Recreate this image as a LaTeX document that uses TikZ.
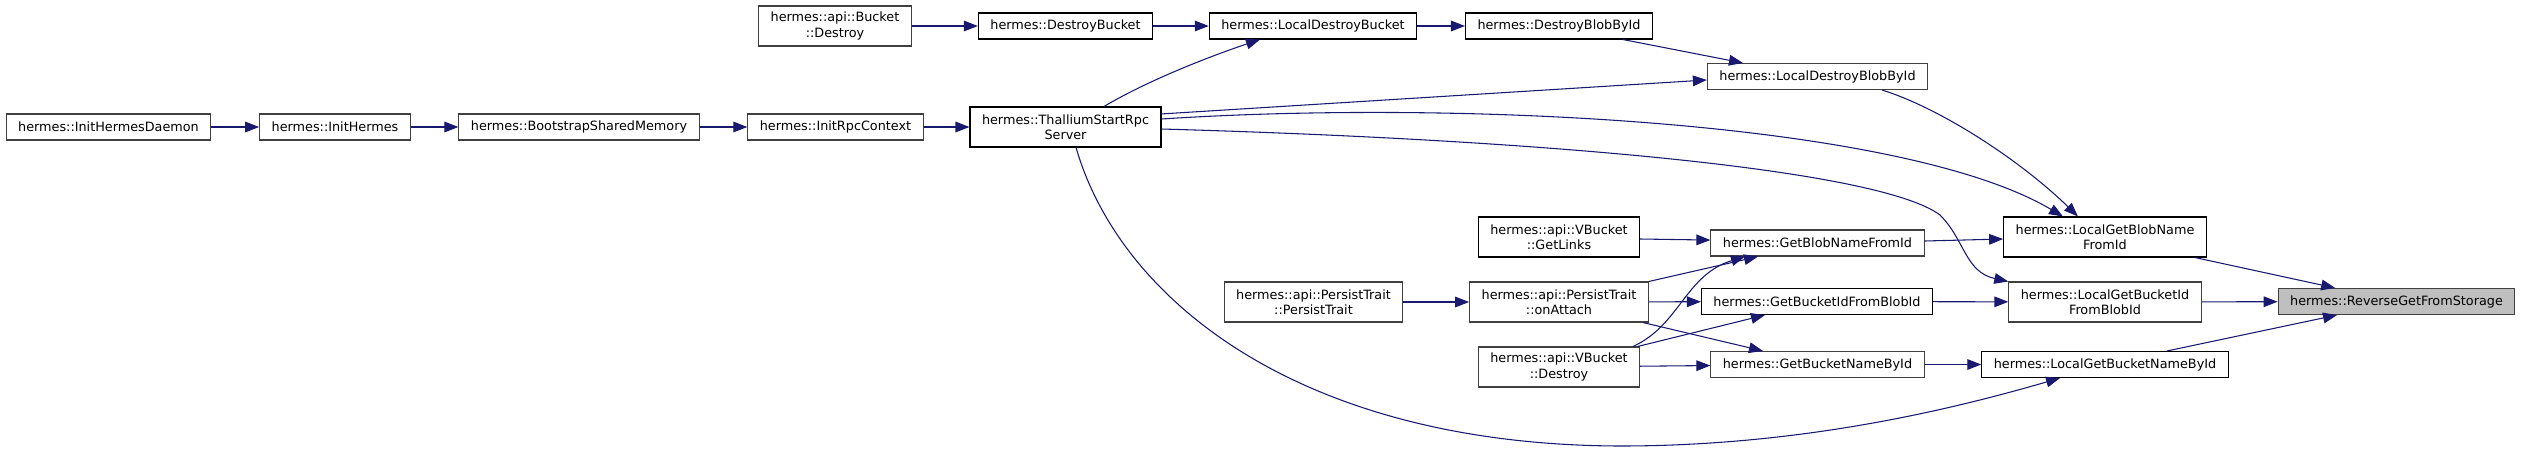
\documentclass[tikz,border=0pt]{standalone}
\usepackage{fontspec}
\usepackage{tikz}
\usetikzlibrary{arrows.meta,positioning}
\newfontfamily\dox{DejaVu Sans}
\definecolor{edgeblue}{HTML}{191970}
\definecolor{boxgray}{HTML}{404040}
\definecolor{hilite}{HTML}{BFBFBF}

\begin{document}
\begin{tikzpicture}[
  x=0.75pt, y=-0.75pt,
  fn/.style={draw=black, fill=white, line width=0.8pt, inner xsep=9pt, inner ysep=0pt,
             minimum height=19.5pt, align=center,
             font=\dox\fontsize{9.6}{11.5}\selectfont},
  fngray/.style={fn, draw=boxgray},
  two/.style={minimum height=30pt},
  call/.style={-{Triangle[length=10.5pt, width=8pt]}, draw=edgeblue, line width=0.8pt},
]
\useasboundingbox (0,0) rectangle (2521,451);

% left chain
\node[fngray] (daemon) at (108.5,127) {hermes::InitHermesDaemon};
\node[fngray] (inithermes) at (335,127) {hermes::InitHermes};
\node[fngray] (bootstrap) at (579,127) {hermes::BootstrapSharedMemory};
\node[fngray] (initrpc) at (835.5,127) {hermes::InitRpcContext};
\node[fn, two] (thallium) at (1065.5,127) {hermes::ThalliumStartRpc\\Server};

% top row
\node[fngray, two] (bktdestroy) at (835,26) {hermes::api::Bucket\\::Destroy};
\node[fn] (destroybkt) at (1065.5,26) {hermes::DestroyBucket};
\node[fn] (localdestroybkt) at (1313,26) {hermes::LocalDestroyBucket};
\node[fn] (destroyblob) at (1559,26) {hermes::DestroyBlobById};
\node[fngray] (localdestroyblob) at (1817.5,76.5) {hermes::LocalDestroyBlobById};

% api callers
\node[fn, two] (getlinks) at (1559,237) {hermes::api::VBucket\\::GetLinks};
\node[fngray, two] (persist) at (1313.5,302) {hermes::api::PersistTrait\\::PersistTrait};
\node[fngray, two] (onattach) at (1559,302) {hermes::api::PersistTrait\\::onAttach};
\node[fngray, two] (vbdestroy) at (1559,367) {hermes::api::VBucket\\::Destroy};

% getters
\node[fngray] (getblobname) at (1817.5,243) {hermes::GetBlobNameFromId};
\node[fn] (getbktid) at (1817,301.5) {hermes::GetBucketIdFromBlobId};
\node[fngray] (getbktname) at (1817.5,364.5) {hermes::GetBucketNameById};

% local getters
\node[fn, two] (localgetblobname) at (2105,237) {hermes::LocalGetBlobName\\FromId};
\node[fngray, two] (localgetbktid) at (2105,302) {hermes::LocalGetBucketId\\FromBlobId};
\node[fn] (localgetbktname) at (2105,364.5) {hermes::LocalGetBucketNameById};

\node[fngray, fill=hilite] (reverse) at (2396.5,301.5) {hermes::ReverseGetFromStorage};

% straight calls
\foreach \i/\j in {daemon/inithermes, inithermes/bootstrap, bootstrap/initrpc, initrpc/thallium,
                   bktdestroy/destroybkt, destroybkt/localdestroybkt, localdestroybkt/destroyblob,
                   persist/onattach, onattach/getbktid, vbdestroy/getbktname,
                   getbktid/localgetbktid, getbktname/localgetbktname, localgetbktid/reverse}
  \draw[call] (\i) -- (\j);
\draw[call] ([yshift=-1.5pt]getlinks.east) -- ([yshift=2.2pt]getblobname.west);
\draw[call] ([yshift=1.5pt]getblobname.east) -- ([yshift=-1.5pt]localgetblobname.west);

% thallium fan-out
\draw[call] ([xshift=28.9pt]thallium.north) .. controls (1145,82) and (1205,58) .. ([xshift=-39.8pt]localdestroybkt.south);
\draw[call] ([yshift=9.8pt]thallium.east) -- ([yshift=-2.6pt]localdestroyblob.west);
\draw[call] ([yshift=6pt]thallium.east) .. controls (1450,100) and (1900,120) .. ([xshift=-31.5pt]localgetblobname.north);
\draw[call] ([yshift=-1.5pt]thallium.east) .. controls (1550,140) and (1880,170) .. (1940,215)
  .. controls (1965,240) and (1965,272) .. (localgetbktid.north west);
\draw[call] ([xshift=7.9pt]thallium.south) .. controls (1120,300) and (1300,445) .. (1620,446)
  .. controls (1800,446) and (1950,410) .. ([xshift=-33.75pt]localgetbktname.south);

% blob destroy path
\draw[call] ([xshift=48pt]destroyblob.south) -- ([xshift=-55.9pt]localdestroyblob.north);
\draw[call] ([xshift=48.4pt]localdestroyblob.south) .. controls (1940,108) and (2020,160) .. ([xshift=-20.3pt]localgetblobname.north);

% api to getters
\draw[call] (onattach.north east) -- ([xshift=-44.6pt]getblobname.south);
\draw[call] ([xshift=55.5pt]vbdestroy.north) .. controls (1680,325) and (1685,275) .. ([xshift=-54.4pt]getblobname.south);
\draw[call] ([xshift=59pt]vbdestroy.north) -- ([xshift=-39pt]getbktid.south);
\draw[call] ([xshift=63pt]onattach.south) -- ([xshift=-40.9pt]getbktname.north);

% into the target
\draw[call] ([xshift=67.5pt]localgetblobname.south) -- ([xshift=-46pt]reverse.north);
\draw[call] ([xshift=46.5pt]localgetbktname.north) -- ([xshift=-44.6pt]reverse.south);
\end{tikzpicture}
\end{document}
